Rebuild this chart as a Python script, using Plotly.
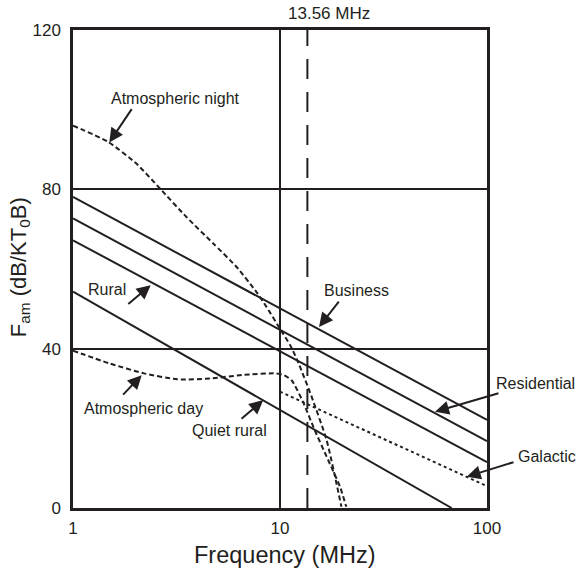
import plotly.graph_objects as go

# ---- data ----
freq_ends = [1, 100]
business = [78.1, 22.1]
residential = [72.7, 16.8]
rural = [67.2, 11.5]
quiet_rural_f = [1, 67.5]
quiet_rural = [54.3, 0]
galactic_f = [10, 100]
galactic = [29.2, 5.5]
night_f = [1, 1.48, 2.03, 2.63, 3.54, 4.76, 6.17, 7.7, 8.6, 10, 11.3, 12.3, 14.2, 16.8, 19.8]
night = [96, 91.9, 86.4, 80.2, 73, 66.4, 60.5, 54.2, 50.5, 45, 40.5, 36.3, 28, 17, 0.3]
day_f = [1, 1.5, 2.2, 3.2, 4.6, 6.6, 9.6, 10.5, 11.4, 12.9, 14.7, 16.8, 19.5, 20.9]
day = [39.5, 36.3, 33.8, 32.3, 32.5, 33.4, 33.8, 33.3, 32, 26.7, 19.6, 12.9, 5.3, 0.3]
ism_freq = 13.56
ism_span = [0, 120]
x_ticks = [1, 10, 100]
y_ticks = [0, 40, 80, 120]

INK = "#231f20"
FONT = "Liberation Sans, Arial, sans-serif"

fig = go.Figure()

def line(x, y, dash="solid", width=2, shape="linear"):
    fig.add_trace(go.Scatter(x=x, y=y, mode="lines",
                             line=dict(color=INK, width=width, dash=dash,
                                       shape=shape, smoothing=0.6),
                             hoverinfo="skip", showlegend=False))

line(freq_ends, business)
line(freq_ends, residential)
line(freq_ends, rural)
line(quiet_rural_f, quiet_rural)
line(galactic_f, galactic, dash="dot")
line(night_f, night, dash="5px,3px", shape="spline")
line(day_f, day, dash="5px,3px", shape="spline")
line([ism_freq, ism_freq], ism_span, dash="20px,13px")

# plot area in pixels
L, R, T, B = 73, 487, 29.5, 508
W, H = 576, 573

def px(x, y):
    return (x - L) / (R - L), (B - y) / (B - T)

def text(s, cx, cy, size=16, angle=0):
    xp, yp = px(cx, cy)
    fig.add_annotation(x=xp, y=yp, xref="paper", yref="paper", text=s,
                       showarrow=False, xanchor="center", yanchor="middle",
                       textangle=angle, font=dict(family=FONT, size=size, color=INK))

def arrow(hx, hy, tx, ty):
    xp, yp = px(hx, hy)
    fig.add_annotation(x=xp, y=yp, xref="paper", yref="paper", text="",
                       showarrow=True, ax=tx - hx, ay=ty - hy,
                       arrowhead=2, arrowsize=1.4, arrowwidth=2, arrowcolor=INK)

text("13.56 MHz", 329, 12.5, size=17)
text("Atmospheric night", 175, 98.5)
arrow(109.3, 142, 132.7, 107.3)
text("Rural", 107, 289)
arrow(150.7, 285, 126.8, 305)
text("Business", 356, 290)
arrow(319, 326.7, 340, 300)
text("Residential", 535.5, 383.3)
arrow(435, 411.7, 500, 392.7)
text("Galactic", 546.5, 456.7)
arrow(466.7, 476.7, 515, 461.7)
text("Atmospheric day", 143.3, 408.3)
arrow(141.7, 375, 121.7, 396)
text("Quiet rural", 229, 430)
arrow(263.3, 400, 240, 420)

text("Frequency (MHz)", 285, 555, size=23.5)
text("F<sub>am</sub> (dB/KT<sub>0</sub>B)", 20, 267, size=22, angle=-90)

fig.update_xaxes(type="log", range=[0, 2], tickvals=x_ticks,
                 ticktext=[str(v) for v in x_ticks],
                 showgrid=True, gridcolor=INK, gridwidth=2,
                 showline=True, mirror=True, linecolor=INK, linewidth=2.5,
                 ticks="outside", ticklen=3, tickcolor="rgba(0,0,0,0)",
                 zeroline=False,
                 tickfont=dict(family=FONT, size=17, color=INK))
fig.update_yaxes(range=[0, 120], tickvals=y_ticks,
                 showgrid=True, gridcolor=INK, gridwidth=2,
                 showline=True, mirror=True, linecolor=INK, linewidth=2.5,
                 ticks="outside", ticklen=6, tickcolor="rgba(0,0,0,0)",
                 zeroline=False,
                 tickfont=dict(family=FONT, size=17, color=INK))

fig.update_layout(width=W, height=H,
                  margin=dict(l=L, r=W - R, t=T, b=H - B, autoexpand=False),
                  plot_bgcolor="white", paper_bgcolor="white",
                  showlegend=False)

fig.write_html("out.html", config={"displayModeBar": False})
